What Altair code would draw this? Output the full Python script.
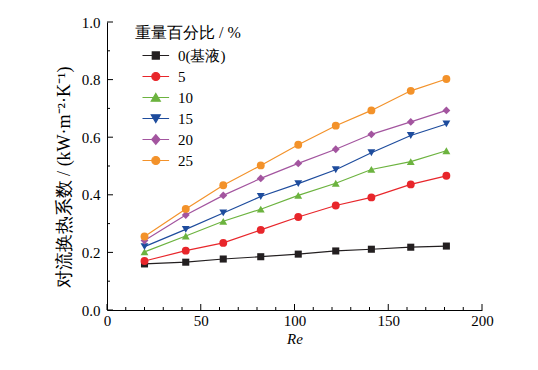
import altair as alt
import pandas as pd

# ---- data ----
re_vals = [20, 42, 62, 82, 102, 122, 141, 162, 181]
series = ["0(基液)", "5", "10", "15", "20", "25"]
h0 = [0.160, 0.166, 0.177, 0.185, 0.194, 0.205, 0.211, 0.218, 0.222]
h5 = [0.170, 0.206, 0.233, 0.278, 0.323, 0.363, 0.391, 0.436, 0.466]
h10 = [0.202, 0.257, 0.308, 0.350, 0.398, 0.440, 0.488, 0.515, 0.553]
h15 = [0.220, 0.280, 0.337, 0.394, 0.439, 0.487, 0.546, 0.606, 0.646]
h20 = [0.241, 0.330, 0.398, 0.457, 0.509, 0.558, 0.610, 0.653, 0.693]
h25 = [0.255, 0.351, 0.433, 0.502, 0.574, 0.640, 0.693, 0.761, 0.802]
x_major = [0, 50, 100, 150, 200]
x_minor = [10, 20, 30, 40, 60, 70, 80, 90, 110, 120, 130, 140, 160, 170, 180, 190]
y_major = [0.0, 0.2, 0.4, 0.6, 0.8, 1.0]
y_minor = [0.1, 0.3, 0.5, 0.7, 0.9]

colors = ["#231f20", "#e8262b", "#6cb33f", "#1e4c9d", "#a3559f", "#f3922a"]
shapes = ["square", "circle", "triangle-up", "triangle-down", "diamond", "circle"]
# legend symbols: line segment + marker
legend_paths = [
    "M0,0H4M1.47,-0.53H2.53V0.53H1.47Z",
    "M0,0H4M1.4,0A0.6,0.6,0,1,0,2.6,0A0.6,0.6,0,1,0,1.4,0Z",
    "M0,0H4M2,-0.6L2.68,0.55L1.32,0.55Z",
    "M0,0H4M2,0.6L2.68,-0.55L1.32,-0.55Z",
    "M0,0H4M2,-0.72L2.62,0L2,0.72L1.38,0Z",
    "M0,0H4M1.4,0A0.6,0.6,0,1,0,2.6,0A0.6,0.6,0,1,0,1.4,0Z",
]

rows = []
for s, vals in zip(series, [h0, h5, h10, h15, h20, h25]):
    for r, v in zip(re_vals, vals):
        rows.append({"Re": r, "h": v, "series": s})
df = pd.DataFrame(rows)

FONT = "Times New Roman"
W, H = 375, 288

xscale = alt.Scale(domain=[0, 200], nice=False)
yscale = alt.Scale(domain=[0, 1], nice=False)
X = alt.X("Re:Q", scale=xscale,
          axis=alt.Axis(values=x_major, title="Re", titleFontStyle="italic", labelFlush=False,
                        labelPadding=3, titlePadding=3))
Y = alt.Y("h:Q", scale=yscale,
          axis=alt.Axis(values=y_major, format=".1f", labelFlush=False,
                        title="对流换热系数 / (kW·m⁻²·K⁻¹)", titleFontSize=18, titleY=155,
                        labelPadding=7, titlePadding=8))

layers = []
for s, c in zip(series, colors):
    layers.append(alt.Chart(df).transform_filter(alt.datum.series == s)
                  .mark_line(strokeWidth=1.2, color=c).encode(x=X, y=Y))
for s, c, shp in zip(series, colors, shapes):
    layers.append(
        alt.Chart(df).transform_filter(alt.datum.series == s)
        .mark_point(filled=True, shape=shp, color=c, opacity=1,
                    size=50 if shp == "square" else 62)
        .encode(x=X, y=Y)
    )

leg = alt.Legend(title="重量百分比 / %", orient="none", legendX=28, legendY=3,
                 symbolSize=177, symbolStrokeWidth=1.2, labelOffset=28, symbolOpacity=1,
                 rowPadding=5, titlePadding=7, padding=0)
legend_layer = (
    alt.Chart(df)
    .mark_point(filled=True, strokeWidth=1.2, opacity=0)
    .encode(
        x=X, y=Y,
        fill=alt.Fill("series:N", scale=alt.Scale(domain=series, range=colors), legend=leg),
        stroke=alt.Stroke("series:N", scale=alt.Scale(domain=series, range=colors), legend=leg),
        shape=alt.Shape("series:N", scale=alt.Scale(domain=series, range=legend_paths), legend=leg),
    )
)
layers.append(legend_layer)

# inward ticks
def xticks(vals, length):
    return alt.Chart(pd.DataFrame({"Re": vals})).mark_rule(color="black", strokeWidth=1).encode(
        x=alt.X("Re:Q", scale=xscale), y=alt.value(H), y2=alt.value(H - length))

def yticks(vals, length):
    return alt.Chart(pd.DataFrame({"h": vals})).mark_rule(color="black", strokeWidth=1).encode(
        y=alt.Y("h:Q", scale=yscale), x=alt.value(0), x2=alt.value(length))

layers += [xticks(x_major, 6), xticks(x_minor, 3), yticks(y_major, 6), yticks(y_minor, 3)]

chart = (
    alt.layer(*layers)
    .properties(width=W, height=H, autosize=alt.AutoSizeParams(type="none"),
                padding={"left": 99, "top": 14, "right": 48, "bottom": 52})
    .configure_view(stroke=None)
    .configure_axis(grid=False, ticks=False, domainColor="black", domainWidth=1,
                    labelFont=FONT, labelFontSize=15, labelColor="black",
                    titleFont=FONT, titleFontSize=15, titleColor="black", titleFontWeight="normal")
    .configure_legend(titleFont=FONT, titleFontSize=16, titleFontWeight="normal", titleColor="black",
                      labelFont=FONT, labelFontSize=15, labelColor="black")
)
chart.save("out.html", embed_options={"renderer": "svg", "actions": False})
